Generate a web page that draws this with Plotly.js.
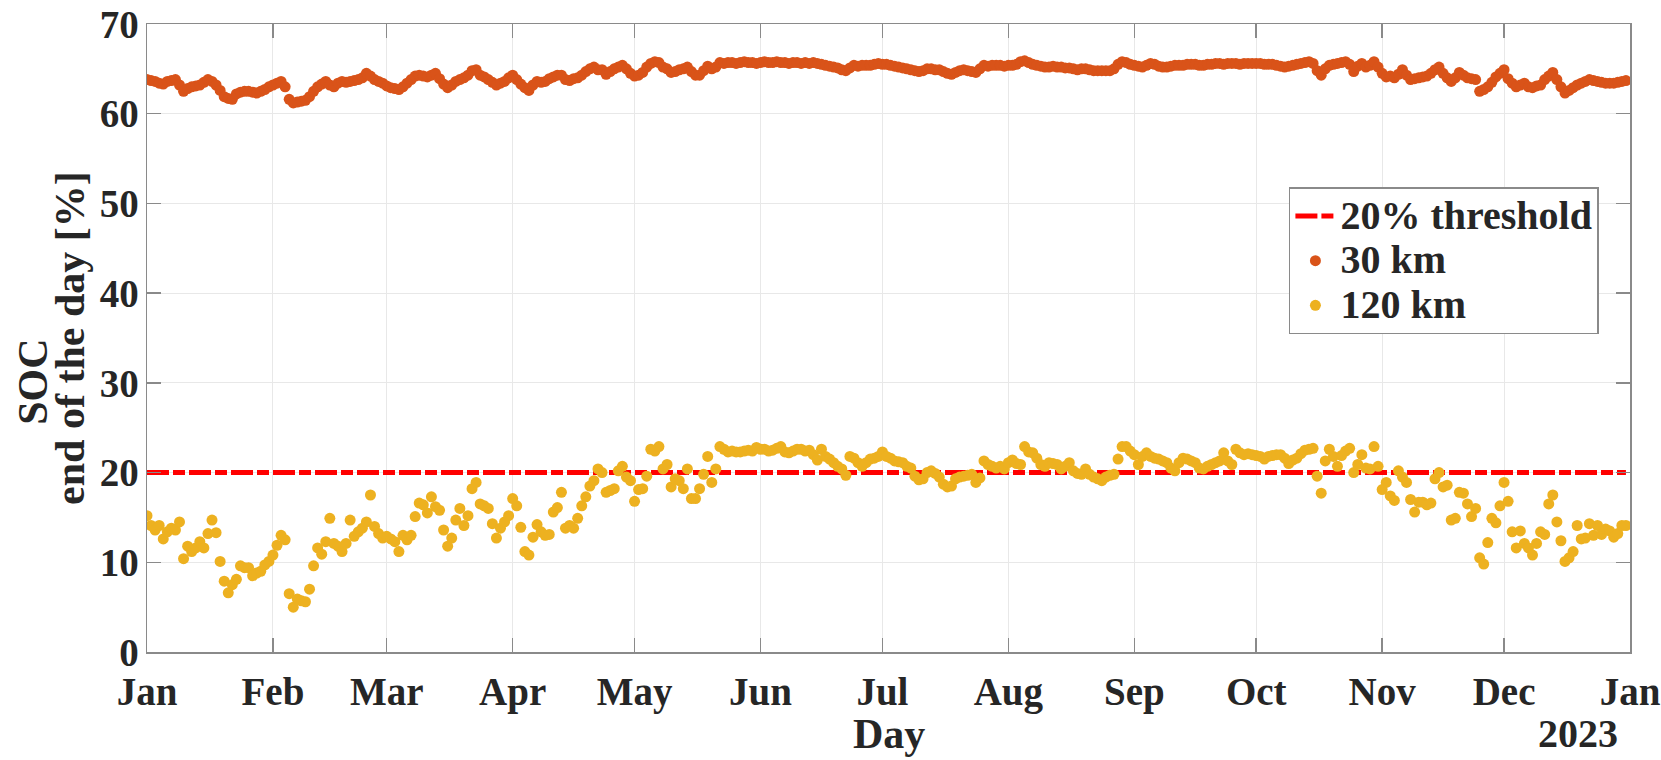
<!DOCTYPE html>
<html>
<head>
<meta charset="utf-8">
<script src="https://cdn.plot.ly/plotly-3.0.1.min.js"></script>
<style>
  html, body { margin: 0; padding: 0; background: #fff; }
  #soc { width: 1661px; height: 760px; }
</style>
</head>
<body>
<div id="soc"></div>
<script>
// end-of-day SOC, one value per day of 2022
soc30 = [
  63.8, 63.7, 63.6, 63.4, 63.3, 63.6, 63.7, 63.8, 63.2, 62.5,
  62.8, 63.0, 63.1, 63.2, 63.5, 63.8, 63.6, 63.2, 62.6, 61.9,
  61.7, 61.6, 62.2, 62.4, 62.5, 62.5, 62.4, 62.3, 62.5, 62.7,
  63.0, 63.2, 63.4, 63.6, 63.0, 61.6, 61.2, 61.3, 61.4, 61.5,
  61.9, 62.5, 63.0, 63.3, 63.6, 63.2, 63.0, 63.4, 63.6, 63.5,
  63.6, 63.7, 63.8, 64.0, 64.5, 64.2, 63.8, 63.6, 63.4, 63.1,
  62.9, 62.8, 62.7, 63.0, 63.4, 63.8, 64.2, 64.3, 64.2, 64.1,
  64.3, 64.5, 63.9, 63.3, 62.9, 63.2, 63.6, 63.8, 64.0, 64.3,
  64.8, 64.9, 64.3, 64.1, 63.8, 63.5, 63.2, 63.4, 63.6, 64.0,
  64.3, 63.8, 63.3, 62.9, 62.6, 63.2, 63.6, 63.5, 63.6, 63.9,
  64.1, 64.3, 64.3, 63.8, 63.7, 63.9, 64.0, 64.3, 64.7, 65.0,
  65.2, 64.9, 64.9, 64.4, 64.7, 65.0, 65.2, 65.4, 65.0, 64.5,
  64.2, 64.3, 64.6, 65.2, 65.6, 65.8, 65.7, 65.2, 65.0, 64.6,
  64.7, 64.9, 65.0, 65.2, 64.7, 64.3, 64.3, 64.8, 65.3, 65.0,
  65.2, 65.7, 65.6, 65.7, 65.7, 65.6, 65.7, 65.8, 65.7, 65.7,
  65.6, 65.7, 65.8, 65.7, 65.7, 65.8, 65.7, 65.7, 65.6, 65.7,
  65.7, 65.6, 65.7, 65.6, 65.7, 65.6, 65.5, 65.4, 65.3, 65.2,
  65.1, 64.9, 64.8, 65.1, 65.4, 65.3, 65.4, 65.4, 65.4, 65.5,
  65.6, 65.5, 65.5, 65.4, 65.3, 65.2, 65.1, 65.0, 64.9, 64.8,
  64.7, 64.8, 65.0, 65.0, 64.9, 64.9, 64.7, 64.5, 64.4, 64.6,
  64.8, 64.9, 64.8, 64.7, 64.6, 65.0, 65.4, 65.3, 65.4, 65.4,
  65.4, 65.3, 65.4, 65.4, 65.5, 65.8, 65.9, 65.7, 65.5, 65.4,
  65.3, 65.2, 65.2, 65.3, 65.2, 65.2, 65.1, 65.1, 65.0, 64.9,
  65.0, 65.0, 64.9, 64.8, 64.8, 64.8, 64.8, 64.8, 65.0, 65.5,
  65.8, 65.7, 65.5, 65.4, 65.3, 65.2, 65.4, 65.6, 65.5, 65.3,
  65.2, 65.2, 65.3, 65.4, 65.4, 65.4, 65.5, 65.5, 65.5, 65.4,
  65.4, 65.5, 65.5, 65.6, 65.6, 65.5, 65.6, 65.6, 65.6, 65.5,
  65.6, 65.6, 65.6, 65.6, 65.6, 65.5, 65.5, 65.5, 65.4, 65.3,
  65.2, 65.3, 65.4, 65.5, 65.6, 65.7, 65.8, 65.6, 64.8, 64.3,
  65.0, 65.4, 65.5, 65.6, 65.7, 65.8, 65.5, 64.7, 65.3, 65.6,
  65.2, 65.4, 65.8, 65.2, 64.5, 64.1, 64.2, 64.0, 64.4, 64.9,
  64.3, 63.8, 63.9, 64.0, 64.1, 64.2, 64.5, 64.9, 65.2, 64.5,
  64.0, 63.6, 64.0, 64.6, 64.3, 64.0, 63.9, 63.8, 62.5, 62.7,
  63.0, 63.5, 64.1, 64.5, 64.9, 63.9, 63.4, 63.0, 63.2, 63.4,
  63.0, 62.9, 63.1, 63.2, 63.8, 64.2, 64.6, 63.8, 63.0, 62.3,
  62.6, 62.9, 63.2, 63.4, 63.6, 63.8, 63.7, 63.6, 63.5, 63.4,
  63.4, 63.4, 63.5, 63.6, 63.7
];

soc120 = [
  15.2, 14.1, 13.6, 14.1, 12.6, 13.4, 13.8, 13.6, 14.5, 10.4,
  11.8, 11.2, 11.6, 12.3, 11.6, 13.2, 14.7, 13.3, 10.1, 7.9,
  6.6, 7.5, 8.1, 9.6, 9.4, 9.4, 8.5, 8.8, 9.0, 9.7,
  10.1, 10.8, 11.9, 13.0, 12.5, 6.5, 5.0, 5.9, 5.7, 5.6,
  7.0, 9.6, 11.6, 10.9, 12.3, 14.9, 12.1, 11.8, 11.2, 12.1,
  14.7, 12.9, 13.4, 13.8, 14.5, 17.5, 14.0, 13.2, 12.7, 12.9,
  12.6, 12.3, 11.2, 13.0, 12.5, 13.0, 15.1, 16.6, 16.4, 15.5,
  17.3, 16.2, 15.8, 13.6, 11.8, 12.7, 14.7, 16.0, 14.1, 15.2,
  18.2, 18.9, 16.5, 16.3, 16.0, 14.3, 12.7, 13.8, 14.5, 15.2,
  17.1, 16.3, 13.9, 11.2, 10.8, 12.8, 14.2, 13.4, 13.0, 13.1,
  15.6, 16.1, 17.8, 13.8, 14.1, 13.8, 14.9, 16.3, 17.3, 18.5,
  19.1, 20.4, 20.0, 17.8, 18.0, 18.2, 20.2, 20.7, 19.5, 19.1,
  16.8, 18.1, 18.2, 19.6, 22.6, 22.4, 22.9, 20.4, 20.9, 18.4,
  19.3, 19.1, 18.2, 20.4, 17.1, 17.1, 18.2, 19.8, 21.8, 18.9,
  20.4, 22.9, 22.6, 22.3, 22.4, 22.3, 22.3, 22.4, 22.5, 22.4,
  22.8, 22.6, 22.6, 22.4, 22.5, 22.7, 22.9, 22.3, 22.2, 22.4,
  22.6, 22.6, 22.4, 22.5, 22.0, 21.4, 22.6, 21.8, 21.5, 21.1,
  20.7, 20.4, 19.7, 21.8, 21.6, 21.1, 20.7, 21.1, 21.5, 21.6,
  21.8, 22.3, 21.8, 21.6, 21.3, 21.2, 21.1, 20.7, 20.5, 19.6,
  19.2, 19.3, 20.0, 20.2, 19.9, 19.5, 18.7, 18.4, 18.5, 19.3,
  19.5, 19.6, 19.7, 19.8, 18.9, 19.4, 21.3, 20.9, 20.7, 20.5,
  20.7, 20.4, 21.1, 21.4, 21.0, 20.9, 22.9, 22.3, 22.2, 21.6,
  20.9, 20.7, 21.1, 21.0, 20.9, 20.4, 20.7, 21.1, 20.2, 19.9,
  19.8, 20.4, 19.8, 19.5, 19.3, 19.1, 19.5, 19.7, 19.8, 21.5,
  22.9, 22.9, 22.4, 22.0, 20.9, 21.8, 22.2, 21.8, 21.6, 21.5,
  21.3, 21.1, 20.5, 20.2, 21.1, 21.6, 21.5, 21.3, 21.1, 20.5,
  20.4, 20.7, 20.9, 21.1, 21.3, 22.2, 21.3, 20.9, 22.6, 22.2,
  22.0, 22.1, 22.0, 21.9, 21.8, 21.5, 21.8, 21.9, 22.0, 22.0,
  21.6, 21.0, 21.4, 21.6, 22.1, 22.5, 22.6, 22.7, 19.6, 17.7,
  21.3, 22.6, 21.8, 20.7, 21.9, 22.4, 22.7, 20.0, 20.9, 22.0,
  20.5, 20.4, 22.9, 20.7, 18.1, 18.9, 17.4, 16.9, 20.2, 19.5,
  18.9, 17.0, 15.6, 16.7, 16.7, 16.4, 16.6, 19.3, 20.0, 18.4,
  18.6, 14.7, 14.9, 17.8, 17.7, 16.5, 15.1, 16.0, 10.5, 9.8,
  12.2, 14.9, 14.4, 16.3, 18.9, 16.8, 13.4, 11.6, 13.5, 12.1,
  11.6, 10.8, 12.1, 13.4, 13.1, 16.5, 17.5, 14.5, 12.4, 10.1,
  10.5, 11.2, 14.1, 12.6, 12.7, 14.3, 13.0, 14.1, 13.1, 13.7,
  13.5, 12.8, 13.2, 14.1, 14.1
];

threshold = 20;

socTicks = [0, 10, 20, 30, 40, 50, 60, 70];
monthTicks = ['2022-01-01', '2022-02-01', '2022-03-01', '2022-04-01', '2022-05-01', '2022-06-01',
              '2022-07-01', '2022-08-01', '2022-09-01', '2022-10-01', '2022-11-01', '2022-12-01', '2023-01-01'];
monthLabels = ['Jan', 'Feb', 'Mar', 'Apr', 'May', 'Jun', 'Jul', 'Aug', 'Sep', 'Oct', 'Nov', 'Dec', 'Jan'];

// one date per value, starting 1 Jan 2022
start = Date.UTC(2022, 0, 1);
days = soc30.map((v, i) => new Date(start + i * 86400000).toISOString().slice(0, 10));

SERIF = 'Liberation Serif, Times New Roman, serif';
AXIS = '#8a8a8a';
INK = '#262626';

// legend rows are spaced from the legend font; names carry the bigger text size
function big(s) { return '<span style="font-size:40px">' + s + '</span>'; }

layout = {
  width: 1661,
  height: 760,
  margin: {l: 147, r: 31, t: 24, b: 108},
  paper_bgcolor: '#fff',
  plot_bgcolor: '#fff',
  font: {family: SERIF, size: 39, color: INK, weight: 'bold'},
  showlegend: true,
  legend: {
    x: 0.77, y: 0.74, xanchor: 'left', yanchor: 'top',
    bgcolor: '#fff', bordercolor: AXIS, borderwidth: 1.5,
    font: {family: SERIF, size: 32, color: INK, weight: 'bold'},
    itemwidth: 40, tracegroupgap: 0,
  },
  xaxis: {
    type: 'date',
    range: ['2022-01-01', '2023-01-01'],
    tickmode: 'array',
    tickvals: monthTicks,
    ticktext: monthLabels,
    ticks: 'inside', ticklen: 14, tickwidth: 1.5, tickcolor: AXIS,
    ticklabelstandoff: 5,
    showline: true, linecolor: AXIS, linewidth: 1.5, mirror: 'ticks',
    showgrid: true, gridcolor: '#e8e8e8', gridwidth: 1,
    zeroline: false,
  },
  yaxis: {
    range: [0, 70],
    tickmode: 'array',
    tickvals: socTicks,
    ticks: 'inside', ticklen: 14, tickwidth: 1.5, tickcolor: AXIS,
    ticklabelstandoff: -1,
    ticklabeloverflow: 'allow',
    showline: true, linecolor: AXIS, linewidth: 1.5, mirror: 'ticks',
    showgrid: true, gridcolor: '#e8e8e8', gridwidth: 1,
    zeroline: false,
  },
  annotations: [
    {
      text: 'SOC', textangle: -90,
      xref: 'paper', yref: 'paper', x: -0.077, y: 0.43,
      xanchor: 'center', yanchor: 'middle', showarrow: false,
      font: {family: SERIF, size: 42, color: INK, weight: 'bold'},
    },
    {
      text: 'end of the day [%]', textangle: -90,
      xref: 'paper', yref: 'paper', x: -0.052, y: 0.5,
      xanchor: 'center', yanchor: 'middle', showarrow: false,
      font: {family: SERIF, size: 42, color: INK, weight: 'bold'},
    },
    {
      text: 'Day',
      xref: 'paper', yref: 'paper', x: 0.5, y: -0.13,
      xanchor: 'center', yanchor: 'middle', showarrow: false,
      font: {family: SERIF, size: 42, color: INK, weight: 'bold'},
    },
    {
      text: '2023',
      xref: 'paper', yref: 'paper', x: 1, y: -0.13, xshift: -10,
      xanchor: 'right', yanchor: 'middle', showarrow: false,
      font: {family: SERIF, size: 40, color: INK, weight: 'bold'},
    },
  ],
};

Plotly.newPlot('soc', [
  {
    x: [days[0], days[days.length - 1]],
    y: [threshold, threshold],
    type: 'scatter',
    mode: 'lines',
    name: big('20% threshold'),
    line: {color: '#ff0000', width: 5, dash: '22px,4px,12px,4px'},
  },
  {
    x: days,
    y: soc30,
    type: 'scatter',
    mode: 'markers',
    name: big('30 km'),
    marker: {color: '#d95319', size: 11},
  },
  {
    x: days,
    y: soc120,
    type: 'scatter',
    mode: 'markers',
    name: big('120 km'),
    marker: {color: '#edb120', size: 11},
  }], layout, {staticPlot: true});
</script>
</body>
</html>
